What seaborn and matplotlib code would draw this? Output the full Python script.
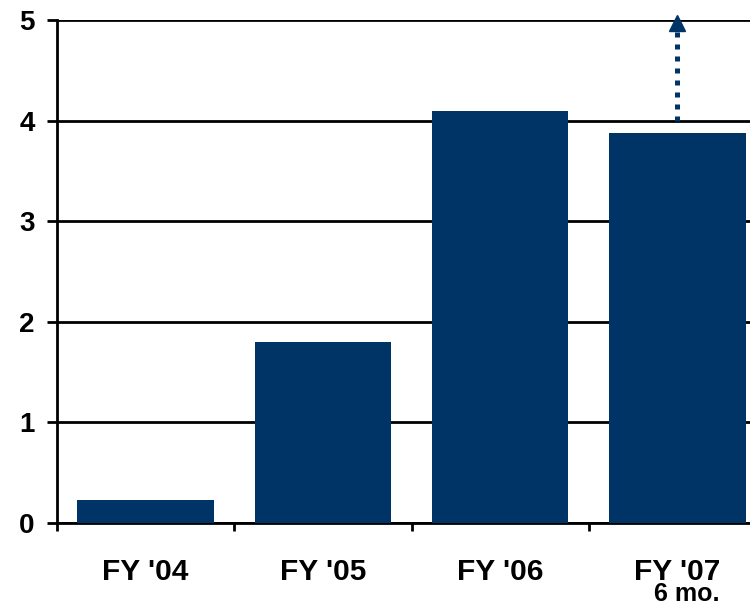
import matplotlib
matplotlib.use("Agg")
import matplotlib.pyplot as plt
import seaborn as sns
import pandas as pd

# data
years = ["FY '04", "FY '05", "FY '06", "FY '07"]
values = [0.23, 1.80, 4.10, 3.88]
sub_label = "6 mo."
arrow_from = 4.0
arrow_to = 5.0

navy = "#003366"

sns.set_style("white")
plt.rcParams['font.family'] = ['Liberation Sans', 'DejaVu Sans']
plt.rcParams['font.weight'] = 'bold'
plt.rcParams['text.color'] = 'black'
plt.rcParams['xtick.color'] = 'black'
plt.rcParams['ytick.color'] = 'black'

df = pd.DataFrame({"year": years, "value": values})

fig = plt.figure(figsize=(7.5, 6.05), dpi=100)
ax = fig.add_axes([57 / 750, 82 / 605, 709 / 750, 503 / 605])

sns.barplot(data=df, x="year", y="value", color=navy, saturation=1,
            width=0.77, linewidth=0, ax=ax, zorder=3)

ax.set_ylim(0, 5)
ax.set_xlim(-0.5, len(years) - 0.5)
ax.set_yticks(range(0, 6))
ax.yaxis.grid(True, color="black", linewidth=2)
ax.set_axisbelow(True)

for side in ["top", "right"]:
    ax.spines[side].set_visible(False)
for side in ["left", "bottom"]:
    ax.spines[side].set_color("black")
    ax.spines[side].set_linewidth(2)

ax.tick_params(axis="y", direction="out", length=7, width=2, pad=9,
               labelsize=20, left=True, color="black", labelcolor="black")
ax.set_xticks([i - 0.5 for i in range(len(years) + 1)], minor=True)
ax.tick_params(axis="x", which="minor", direction="out", length=6, width=2,
               bottom=True, color="black")
ax.tick_params(axis="x", which="major", length=0, pad=25, labelsize=21.5,
               labelcolor="black")
for lab in ax.get_yticklabels() + ax.get_xticklabels():
    lab.set_fontweight("bold")

ax.set_xlabel("")
ax.set_ylabel("")

# second line under the last category
ax.annotate(sub_label, xy=(len(years) - 1, 0), xycoords=("data", "axes fraction"),
            xytext=(30, -42.5), textcoords="offset points", ha="right", va="top",
            fontsize=18, fontweight="bold", color="black")

# dotted arrow above the last bar
xi = len(years) - 1
ax.plot([xi, xi], [arrow_from, arrow_to - 0.12], color=navy, lw=3.6,
        linestyle=(0, (1, 1.4)), dash_capstyle="butt", clip_on=False, zorder=4)
ax.plot([xi], [arrow_to - 0.03], marker="^", markersize=12, color=navy,
        clip_on=False, zorder=4, linestyle="none")

fig.savefig("out.png", dpi=100)
